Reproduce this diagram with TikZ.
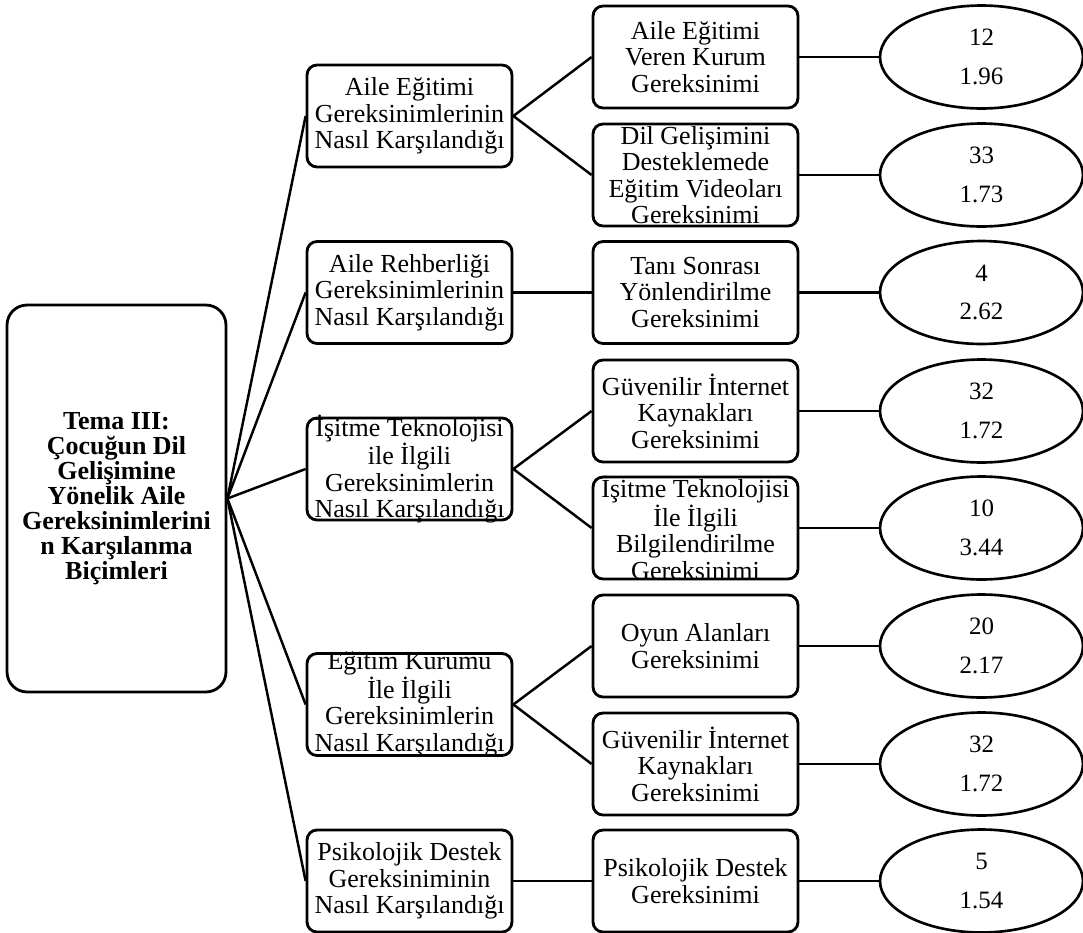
\documentclass[tikz,border=0pt]{standalone}
\usepackage{fontspec}
\setmainfont{Liberation Serif}
\usetikzlibrary{shapes.geometric}

\begin{document}
\begin{tikzpicture}[
        x=0.02cm, y=-0.02cm,
        % Kutular: yuvarlak köşe, sabit boyut (uzun metin taşabilir)
        kutu/.style={
            draw,
            line width=1.6pt,
            rounded corners=0.2cm,
            minimum width=4.1cm,
            minimum height=2.04cm,
            inner xsep=0pt,
            inner ysep=-3pt,
            align=center,
            font=\fontsize{14.8}{15.1}\selectfont
        },
        tema/.style={
            draw,
            line width=1.6pt,
            rounded corners=0.4cm,
            minimum width=4.38cm,
            minimum height=7.74cm,
            inner sep=0pt,
            align=center,
            font=\fontsize{14.8}{14.2}\selectfont\bfseries
        },
        sonuc/.style={
            draw, ellipse,
            line width=1.5pt,
            minimum width=4.06cm,
            minimum height=2.06cm,
            inner sep=0pt,
            align=center,
            font=\fontsize{14.2}{15}\selectfont
        },
        baglanti/.style={
            line width=1.4pt
        }
    ]

    \useasboundingbox (0,0) rectangle (1083,933);

    \node[tema] (tema) at (116.5, 498.5) {Tema III:\\Çocuğun Dil\\Gelişimine\\Yönelik Aile\\Gereksinimlerini\\n Karşılanma\\Biçimleri};

    % --- Ana başlıklar ---
    \node[kutu] (t1) at (409.5, 116) {Aile Eğitimi\\Gereksinimlerinin\\Nasıl Karşılandığı};
    \node[kutu] (t2) at (409.5, 292.5) {Aile Rehberliği\\Gereksinimlerinin\\Nasıl Karşılandığı};
    \node[kutu] (t3) at (409.5, 469) {İşitme Teknolojisi\\ile İlgili\\Gereksinimlerin\\Nasıl Karşılandığı};
    \node[kutu] (t4) at (409.5, 704.5) {Eğitim Kurumu\\İle İlgili\\Gereksinimlerin\\Nasıl Karşılandığı};
    \node[kutu] (t5) at (409.5, 881) {Psikolojik Destek\\Gereksiniminin\\Nasıl Karşılandığı};

    \foreach \i in {1,...,5} {
        \draw[baglanti] (tema.east) -- (t\i.west);
    }

    % --- Alt başlıklar ---
    \node[kutu] (k1) at (695.5, 57) {Aile Eğitimi\\Veren Kurum\\Gereksinimi};
    \node[kutu] (k2) at (695.5, 175) {Dil Gelişimini\\Desteklemede\\Eğitim Videoları\\Gereksinimi};
    \node[kutu] (k3) at (695.5, 292.5) {Tanı Sonrası\\Yönlendirilme\\Gereksinimi};
    \node[kutu] (k4) at (695.5, 411) {Güvenilir İnternet\\Kaynakları\\Gereksinimi};
    \node[kutu] (k5) at (695.5, 528) {İşitme Teknolojisi\\İle İlgili\\Bilgilendirilme\\Gereksinimi};
    \node[kutu] (k6) at (695.5, 646) {Oyun Alanları\\Gereksinimi};
    \node[kutu] (k7) at (695.5, 764) {Güvenilir İnternet\\Kaynakları\\Gereksinimi};
    \node[kutu] (k8) at (695.5, 881) {Psikolojik Destek\\Gereksinimi};

    \foreach \t/\k in {1/1, 1/2, 2/3, 3/4, 3/5, 4/6, 4/7, 5/8} {
        \draw[baglanti] (t\t.east) -- (k\k.west);
    }

    % --- Frekans ve ortalama ---
    \foreach \i/\y/\sayi/\ort in {1/57/12/1.96, 2/175/33/1.73, 3/292.5/4/2.62, 4/411/32/1.72,
                                  5/528/10/3.44, 6/646/20/2.17, 7/764/32/1.72, 8/881/5/1.54} {
        \node[sonuc] (s\i) at (981.5, \y) {\sayi\\[7pt]\ort};
        \draw[baglanti] (k\i.east) -- (s\i.west);
    }

\end{tikzpicture}
\end{document}
